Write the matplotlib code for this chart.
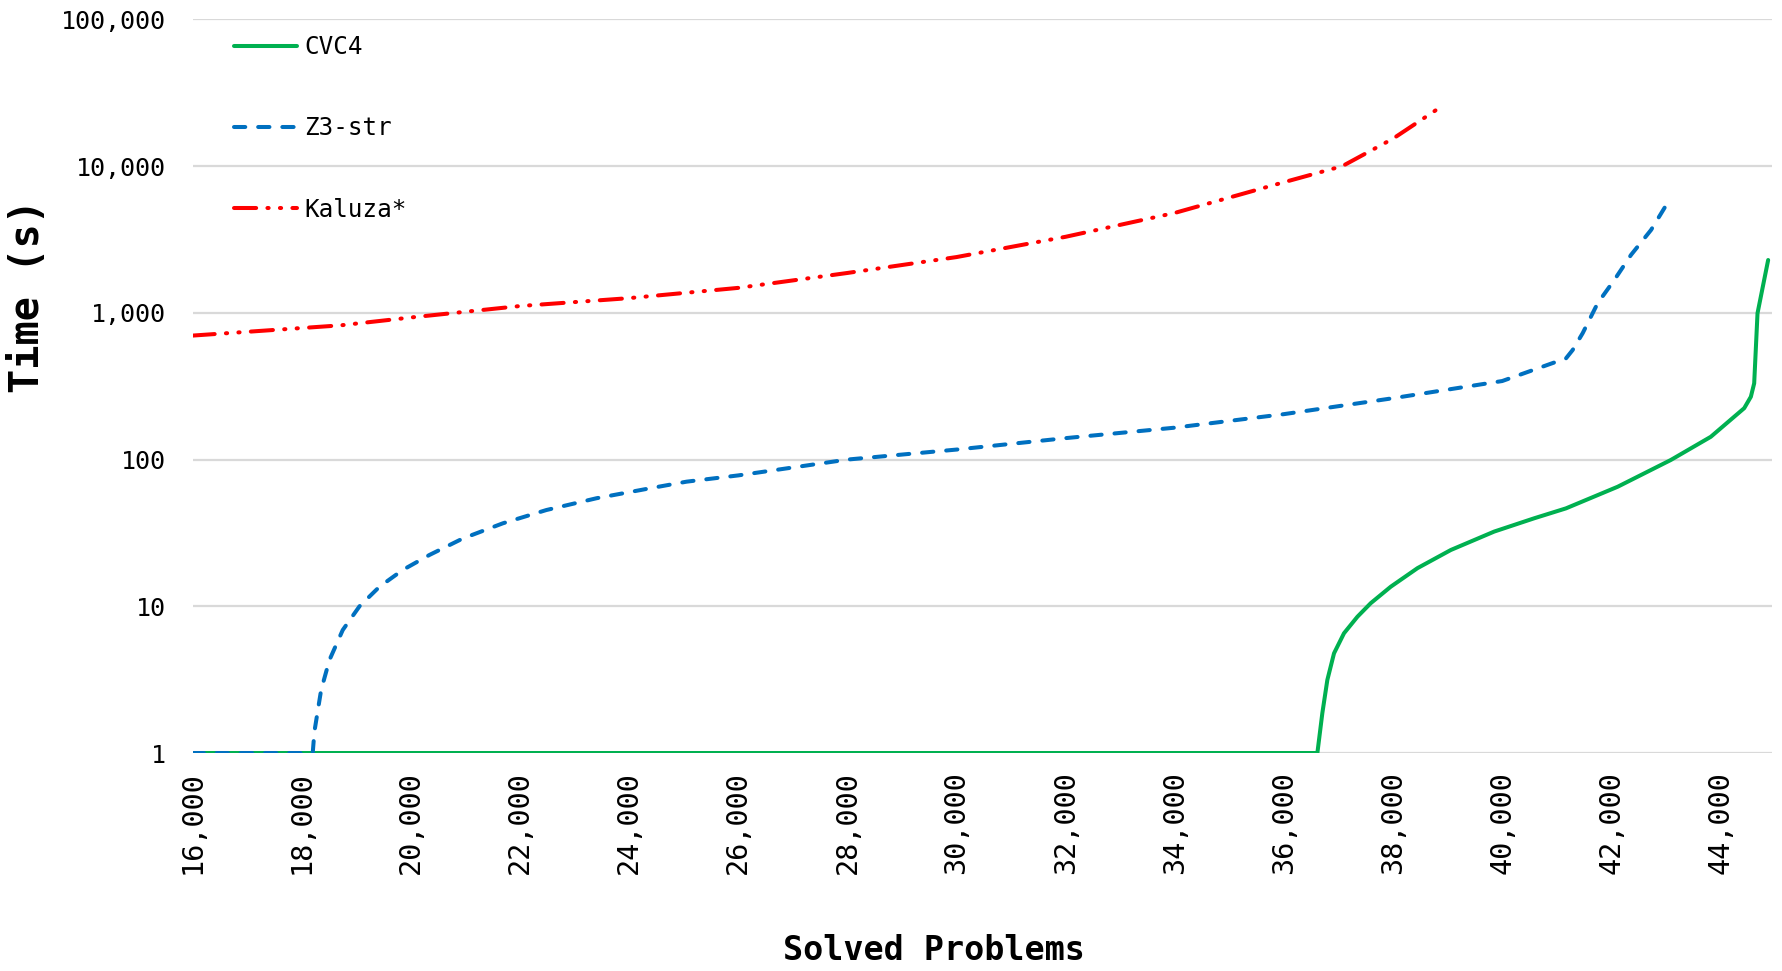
import matplotlib
matplotlib.use("Agg")
import matplotlib.pyplot as plt
from matplotlib.ticker import FixedLocator, FuncFormatter, NullLocator

# ---- data ----
cvc4_x = [16000, 36613, 36704, 36796, 36918, 37101, 37347, 37591, 37958, 38448,
          39059, 39853, 40587, 41169, 42117, 43089, 43823, 44435, 44557, 44618,
          44679, 44874]
cvc4_y = [1, 1, 1.87, 3.15, 4.78, 6.55, 8.49, 10.5, 13.6, 18.2,
          24.2, 32.3, 39.8, 46.5, 65.3, 99.3, 143, 224, 268, 331,
          994, 2292]

z3_x = [16000, 18202, 18233, 18356, 18508, 18752, 19059, 19426, 19853, 20343,
        20954, 21688, 22484, 23402, 24380, 25053, 26000, 28000, 30000, 32000,
        34000, 36000, 38000, 40000, 41170, 41291, 41475, 41750, 42055, 42361,
        42728, 43064]
z3_y = [1, 1, 1.40, 2.69, 4.30, 6.89, 10, 13.6, 17.7, 22.4,
        29.0, 36.8, 45.3, 54.5, 63.7, 70.7, 78, 100, 117, 140,
        165, 204, 262, 343, 490, 558, 727, 1164, 1676, 2483,
        3673, 5890]

kaluza_x = [16000, 18712, 20000, 22000, 24000, 26000, 28000, 30000, 32000,
            34000, 36000, 37070, 38000, 38900]
kaluza_y = [700, 822, 930, 1113, 1260, 1480, 1870, 2400, 3300,
            4800, 7770, 10000, 15400, 25700]

x_ticks = [16000, 18000, 20000, 22000, 24000, 26000, 28000, 30000, 32000,
           34000, 36000, 38000, 40000, 42000, 44000]
y_ticks = [1, 10, 100, 1000, 10000, 100000]

series_labels = ["CVC4", "Z3-str", "Kaluza*"]

# ---- figure ----
plt.rcParams['font.family'] = ['DejaVu Sans Mono']
fig = plt.figure(figsize=(17.83, 9.71), dpi=100)
ax = fig.add_axes([0.108, 0.2245, 0.886, 0.7555])

LW = 2.9
ax.plot(cvc4_x, cvc4_y, color="#00B050", lw=LW, label=series_labels[0],
        solid_joinstyle="round", solid_capstyle="round", zorder=3)
ax.plot(z3_x, z3_y, color="#0070C0", lw=LW, linestyle=(0, (2.8, 3.2)),
        label=series_labels[1], dash_capstyle="round", dash_joinstyle="round",
        zorder=4)
ax.plot(kaluza_x, kaluza_y, color="#FF0000", lw=LW,
        linestyle=(0, (5.5, 2.8, 0.3, 2.8, 0.3, 2.8)),
        label=series_labels[2], dash_capstyle="round", dash_joinstyle="round",
        zorder=4)

ax.set_yscale("log")
ax.set_ylim(1, 100000)
ax.set_xlim(16000, 44950)

ax.yaxis.set_major_locator(FixedLocator(y_ticks))
ax.yaxis.set_minor_locator(NullLocator())
ax.yaxis.set_major_formatter(FuncFormatter(lambda v, p: f"{int(round(v)):,}"))
ax.xaxis.set_major_locator(FixedLocator(x_ticks))
ax.xaxis.set_major_formatter(FuncFormatter(lambda v, p: f"{int(round(v)):,}"))

ax.grid(axis="y", color="#D9D9D9", lw=1.6, zorder=0)
ax.set_axisbelow(True)
for s in ax.spines.values():
    s.set_visible(False)
ax.tick_params(axis="both", length=0, colors="black")
ax.tick_params(axis="y", pad=19, labelsize=18)
ax.tick_params(axis="x", pad=13, labelsize=20.5)
for lbl in ax.get_xticklabels():
    lbl.set_rotation(90)

fig.text(0.524, 0.0216, "Solved Problems", fontsize=24, fontweight="bold",
         ha="center", va="center")
fig.text(0.0157, 0.695, "Time (s)", fontsize=29, fontweight="bold",
         ha="center", va="center", rotation=90)

leg = ax.legend(loc="upper left", bbox_to_anchor=(0.02, 0.992), frameon=False,
                fontsize=17.5, handlelength=2.6, handletextpad=0.3,
                labelspacing=2.36, borderaxespad=0)

fig.savefig("out.png", dpi=100, facecolor="white")
